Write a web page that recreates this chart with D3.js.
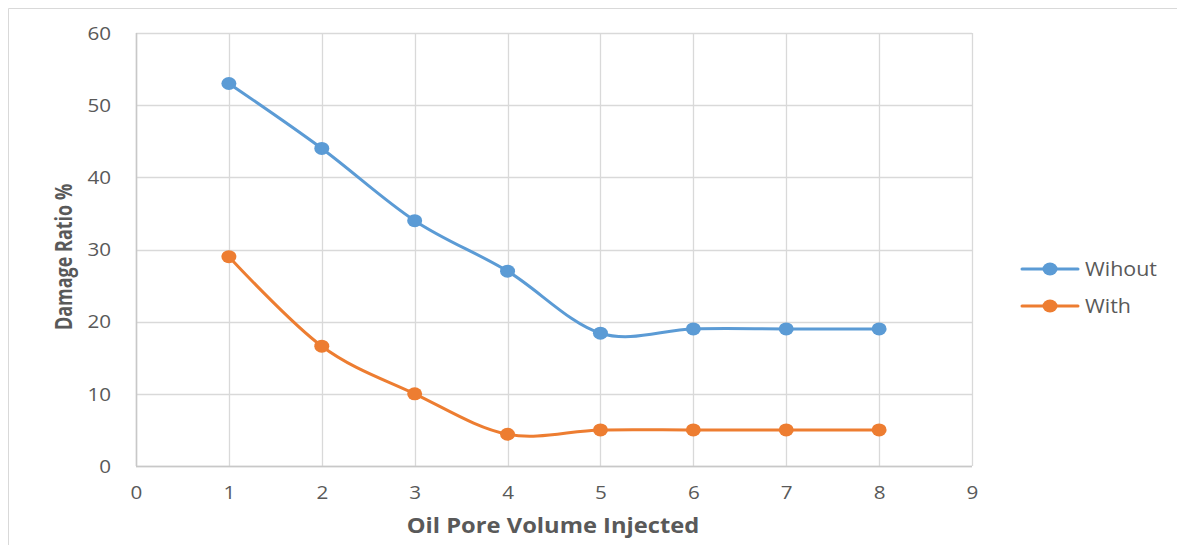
<!DOCTYPE html>
<html><head><meta charset="utf-8">
<script src="https://cdn.jsdelivr.net/npm/d3@7"></script>
<style>
html,body{margin:0;padding:0;background:#fff;}
svg{display:block;font-family:"Open Sans","Noto Sans",sans-serif;}
</style></head>
<body><svg id="c" width="1180" height="545"></svg>
<script>
const xValues = [1, 2, 3, 4, 5, 6, 7, 8];
const seriesNames = ["Wihout", "With"];
const withoutValues = [53, 44, 34, 27, 18.4, 19, 19, 19];
const withValues = [29, 16.6, 10, 4.4, 5, 5, 5, 5];
const xTicks = [0, 1, 2, 3, 4, 5, 6, 7, 8, 9];
const yTicks = [0, 10, 20, 30, 40, 50, 60];
const colors = ["#5b9bd5", "#ed7d31"];

const svg = d3.select("#c");
// outer chart border (top and left edges visible)
svg.append("line").attr("x1", 8.5).attr("x2", 1177).attr("y1", 8.5).attr("y2", 8.5).attr("stroke", "#d9d9d9");
svg.append("line").attr("x1", 8.5).attr("x2", 8.5).attr("y1", 8.5).attr("y2", 545).attr("stroke", "#d9d9d9");

const L = 136, R = 972, T = 33, B = 466;
const x = d3.scaleLinear().domain([0, 9]).range([L, R]);
const y = d3.scaleLinear().domain([0, 60]).range([B, T]);

// gridlines
const g = svg.append("g");
g.selectAll(".hg").data(yTicks).join("line")
  .attr("x1", L).attr("x2", R).attr("y1", d => Math.round(y(d)) + 0.5).attr("y2", d => Math.round(y(d)) + 0.5)
  .attr("stroke", "#d9d9d9").attr("stroke-width", 1.3);
g.selectAll(".vg").data(xTicks).join("line")
  .attr("y1", T).attr("y2", B).attr("x1", d => Math.round(x(d)) + 0.5).attr("x2", d => Math.round(x(d)) + 0.5)
  .attr("stroke", "#d9d9d9").attr("stroke-width", 1.3);
// axis lines
svg.append("line").attr("x1", L + 0.5).attr("x2", L + 0.5).attr("y1", T).attr("y2", B).attr("stroke", "#c8c8c8").attr("stroke-width", 1.5);
svg.append("line").attr("x1", L).attr("x2", R).attr("y1", B + 0.5).attr("y2", B + 0.5).attr("stroke", "#c8c8c8").attr("stroke-width", 1.5);

const SX = 1.18;
// axes via d3
const xAxis = svg.append("g").attr("transform", `translate(0,${B})`)
  .call(d3.axisBottom(x).tickValues(xTicks).tickSize(0));
const yAxis = svg.append("g").attr("transform", `translate(${L},0)`)
  .call(d3.axisLeft(y).tickValues(yTicks).tickSize(0));
[xAxis, yAxis].forEach(a => {
  a.select(".domain").remove();
  a.selectAll("text").attr("fill", "#595959").attr("font-size", 17.5)
    .attr("font-family", "'Open Sans','Noto Sans',sans-serif")
    .attr("x", 0).attr("y", 0).attr("dy", 0);
});
xAxis.selectAll("text").attr("text-anchor", "middle").attr("transform", `translate(0,33) scale(${SX},1)`);
yAxis.selectAll("text").attr("text-anchor", "end").attr("transform", `translate(-25,6.3) scale(${SX},1)`);

// titles
svg.append("text").attr("transform", "translate(553,533) scale(1.13,1)").attr("text-anchor", "middle")
  .attr("font-size", 21).attr("font-weight", "bold").attr("fill", "#595959").text("Oil Pore Volume Injected");
svg.append("text").attr("transform", "translate(72,257) rotate(-90) scale(0.75,1)").attr("text-anchor", "middle")
  .attr("font-size", 24).attr("font-weight", "bold").attr("fill", "#595959").text("Damage Ratio %");

// series
const series = [withoutValues, withValues];
const line = d3.line().x((d, i) => x(xValues[i])).y(d => y(d)).curve(d3.curveCardinal.tension(0));
series.forEach((vals, si) => {
  svg.append("path").attr("d", line(vals)).attr("fill", "none")
    .attr("stroke", colors[si]).attr("stroke-width", 3).attr("stroke-linecap", "round");
  svg.append("g").selectAll("ellipse").data(vals).join("ellipse")
    .attr("cx", (d, i) => x(xValues[i])).attr("cy", d => y(d))
    .attr("rx", 7.5).attr("ry", 6.5).attr("fill", colors[si]);
});

// legend
const legY = [269, 306];
seriesNames.forEach((n, i) => {
  const lg = svg.append("g");
  lg.append("line").attr("x1", 1022).attr("x2", 1078).attr("y1", legY[i]).attr("y2", legY[i])
    .attr("stroke", colors[i]).attr("stroke-width", 3).attr("stroke-linecap", "round");
  lg.append("ellipse").attr("cx", 1050).attr("cy", legY[i]).attr("rx", 7.5).attr("ry", 6.5).attr("fill", colors[i]);
  lg.append("text").attr("transform", `translate(1085,${legY[i] + 7}) scale(1.07,1)`)
    .attr("font-size", 20).attr("fill", "#595959").text(n);
});
</script></body></html>
